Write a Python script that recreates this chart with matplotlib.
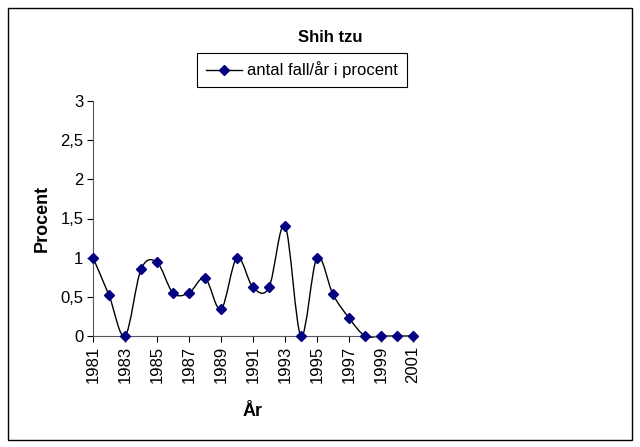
# Shih tzu - antal fall per år i procent (Excel-like smoothed line)
import matplotlib
matplotlib.use('Agg')
import matplotlib.pyplot as plt
from matplotlib.path import Path
from matplotlib.patches import PathPatch, Rectangle
from matplotlib.lines import Line2D
from matplotlib.ticker import FuncFormatter

plt.rcParams['font.family'] = ['Liberation Sans', 'DejaVu Sans']
plt.rcParams['font.size'] = 12

# data
years = [1981, 1982, 1983, 1984, 1985, 1986, 1987, 1988, 1989, 1990, 1991,
         1992, 1993, 1994, 1995, 1996, 1997, 1998, 1999, 2000, 2001]
procent = [1.0, 0.52, 0.0, 0.85, 0.94, 0.55, 0.55, 0.74, 0.34, 1.0, 0.62,
           0.62, 1.41, 0.0, 1.0, 0.53, 0.23, 0.0, 0.0, 0.0, 0.0]
tick_years = list(range(1981, 2002, 2))
series_label = 'antal fall/år i procent'

fig = plt.figure(figsize=(6.4, 4.47), dpi=100, facecolor='white')
ax = fig.add_axes([93/640, 1 - 336/447, 320/640, 235/447])

# smoothed line, bezier segments like Excel's "smoothed line"
pts = list(zip(years, procent))
verts = [pts[0]]
codes = [Path.MOVETO]
n = len(pts)
for i in range(n - 1):
    p0 = pts[max(i - 1, 0)]
    p1 = pts[i]
    p2 = pts[i + 1]
    p3 = pts[min(i + 2, n - 1)]
    c1 = (p1[0] + (p2[0] - p0[0]) / 6, p1[1] + (p2[1] - p0[1]) / 6)
    c2 = (p2[0] - (p3[0] - p1[0]) / 6, p2[1] - (p3[1] - p1[1]) / 6)
    verts += [c1, c2, p2]
    codes += [Path.CURVE4] * 3
ax.add_patch(PathPatch(Path(verts, codes), fill=False, edgecolor='black',
                       lw=1.0, transform=ax.transData, clip_on=False))
ax.plot(years, procent, linestyle='none', marker='D', markersize=5,
        color='#000080', clip_on=False, zorder=3)

ax.set_xlim(1981, 2001)
ax.set_ylim(0, 3)
ax.set_xticks(tick_years)
ax.set_xticklabels([str(y) for y in tick_years], rotation=90)
ax.set_yticks([0, 0.5, 1, 1.5, 2, 2.5, 3])
ax.yaxis.set_major_formatter(FuncFormatter(lambda v, p: ('%g' % v).replace('.', ',')))
ax.tick_params(direction='out', length=4, width=0.8, colors='black', pad=3)
for s in ['top', 'right']:
    ax.spines[s].set_visible(False)
for s in ['left', 'bottom']:
    ax.spines[s].set_color('#555555')
    ax.spines[s].set_linewidth(0.8)

fig.text(42/640, 1 - 218/447, 'Procent', rotation=90, fontsize=13,
         fontweight='bold', ha='center', va='center')
fig.text(253/640, 1 - 412/447, 'År', fontsize=13, fontweight='bold',
         ha='center', va='center')
fig.text(330/640, 1 - 37/447, 'Shih tzu', fontsize=12, fontweight='bold',
         ha='center', va='center')

handle = Line2D([], [], color='black', lw=1.0, marker='D', markersize=5,
                markerfacecolor='#000080', markeredgecolor='#000080')
leg = fig.legend([handle], [series_label], loc='center',
                 bbox_to_anchor=(302/640, 1 - 70/447), frameon=True,
                 fancybox=False, framealpha=1, edgecolor='black',
                 handlelength=2.2, borderpad=0.5, handletextpad=0.3,
                 borderaxespad=0, fontsize=12)
leg.get_frame().set_linewidth(0.8)

# chart area border
fig.patches.append(Rectangle((8/640, 7/447), 624/640, 432/447, fill=False,
                             edgecolor='black', lw=1.0,
                             transform=fig.transFigure, figure=fig))

fig.savefig('out.png', dpi=100)
